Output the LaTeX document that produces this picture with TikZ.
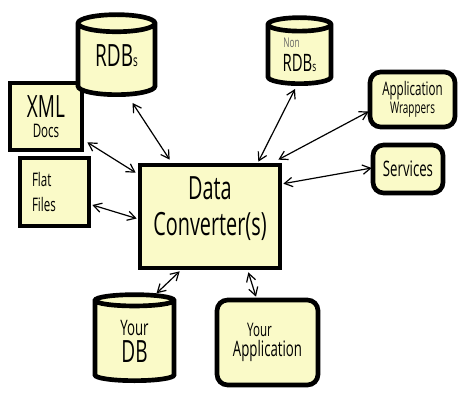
\documentclass[tikz,border=0pt]{standalone}
\usepackage{fontspec}
\newfontfamily\hand[FakeStretch=0.62]{Open Sans}
\usetikzlibrary{shapes.geometric,arrows.meta,calc}
\definecolor{paper}{RGB}{250,250,200}
\newcommand{\hsz}[2]{\fontsize{#1}{#2}\selectfont}
\begin{document}
\begin{tikzpicture}[x=0.75pt,y=-0.75pt,
  box/.style={draw=black, line width=3.5pt, fill=paper, inner sep=0pt, font=\hand, align=center, text=black},
  rbox/.style={box, rounded corners=8pt},
  can/.style={box, cylinder, shape border rotate=90, aspect=0.4},
  link/.style={{Straight Barb[length=6pt,width=7pt]}-{Straight Barb[length=6pt,width=7pt]}, line width=0.9pt}]
\useasboundingbox (0,0) rectangle (473,402);
\node[box, minimum width=54pt, minimum height=50.25pt] (xml) at (46,116.5) {{\hsz{23}{26}XML}\\[3pt]{\hsz{14}{17}Docs}};
\node[box, minimum width=51.75pt, minimum height=51pt, text width=33.75pt, align=left, font=\hand\hsz{14}{17}] (flat) at (54.5,192) {Flat\\[1pt]Files};
\node[box, minimum width=105pt, minimum height=77.25pt, font=\hand\hsz{24}{27}, text depth=15pt] (data) at (210,216.5) {Data\\[0pt]Converter(s)};
\node[rbox, minimum width=63.75pt, minimum height=41.25pt] (appw) at (412.5,99.5) {{\hsz{14}{16}Application}\\[1pt]{\hsz{12}{14}Wrappers}};
\node[rbox, minimum width=52.5pt, minimum height=36pt, font=\hand\hsz{16}{18}] (serv) at (408,169) {Services};
\node[rbox, minimum width=75.75pt, minimum height=63.75pt] (yapp) at (267.5,342.5) {{\hsz{14}{17}Your\hspace*{12pt}}\\[2pt]{\hsz{16}{19}Application}};
\node[can, minimum width=57.75pt, minimum height=60pt, anchor=south, font=\hand\hsz{23}{26}, text depth=7pt] (rdb) at (116.5,97) {RDB{\hsz{12}{14}s}};
\node[can, minimum width=47.25pt, minimum height=49.5pt, anchor=south] (non) at (299.5,86) {{\hsz{10}{13}\color{black!60}Non\hspace*{12pt}}\\[4pt]{\hsz{18}{21}RDB{\hsz{10}{12}s}}};
\node[can, minimum width=59.25pt, minimum height=64.5pt, anchor=south] (ydb) at (134.5,383) {{\hsz{16}{19}Your}\\[3pt]{\hsz{23}{26}DB}};
\draw[link] ($(rdb.south)+(16,6)$) -- ($(data.north west)+(32,-3)$);
\draw[link] ($(xml.south east)+(3,-10)$) -- ($(data.north west)+(-2,10)$);
\draw[link] ($(flat.east)+(1,13)$) -- ($(data.west)+(-1,2)$);
\draw[link] ($(ydb.north)+(22,1)$) -- ($(data.south west)+(42,1)$);
\draw[link] ($(yapp.north)+(-11.5,-1)$) -- ($(data.south east)+(-34,2)$);
\draw[link] ($(non.south)+(-4.5,3)$) -- ($(data.north east)+(-24,-1)$);
\draw[link] ($(appw.west)+(1,12)$) -- ($(data.north east)+(-4,-3)$);
\draw[link] ($(serv.west)+(1,-1)$) -- ($(data.north east)+(1,21)$);
\end{tikzpicture}
\end{document}
